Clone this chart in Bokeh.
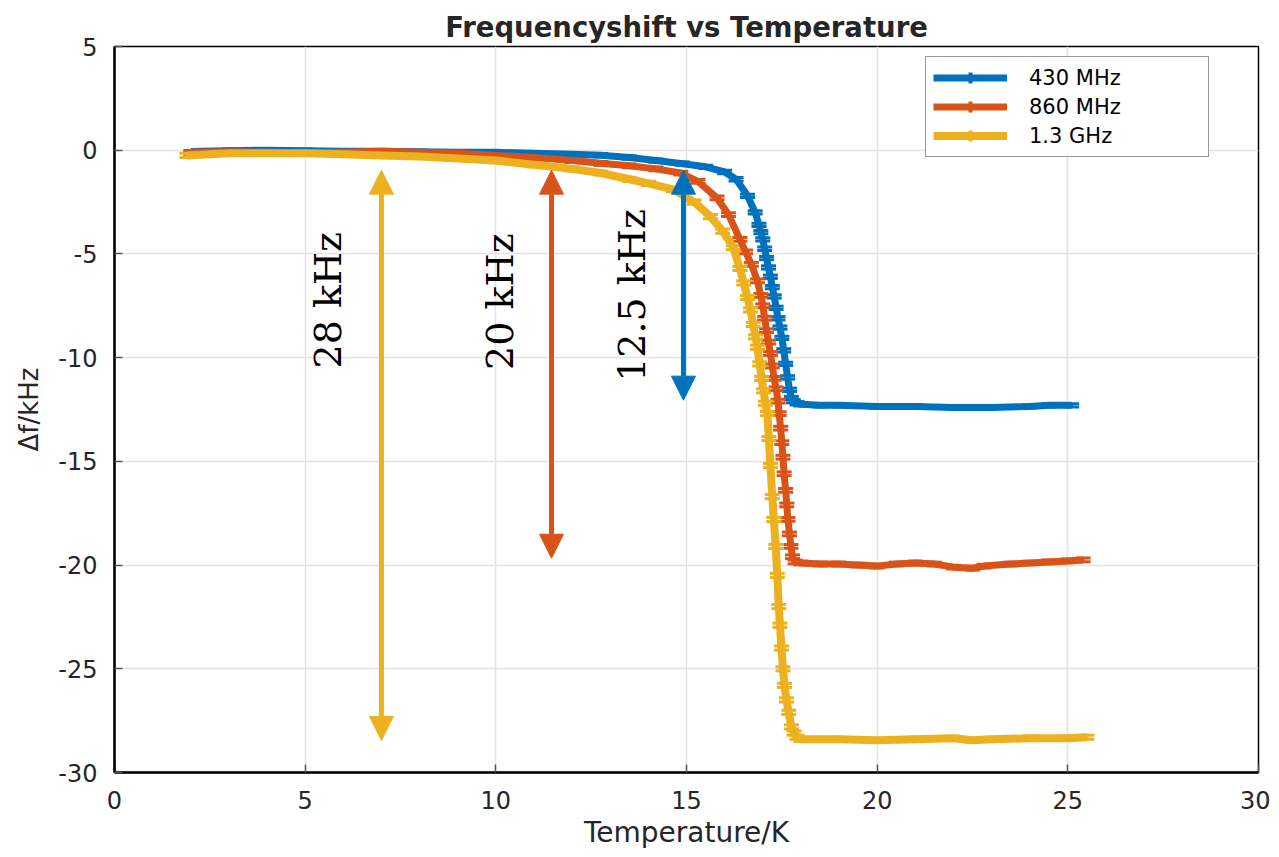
import math
from bokeh.plotting import figure
from bokeh.models import (ColumnDataSource, Range1d, SingleIntervalTicker, Whisker, TeeHead,
                          Arrow, NormalHead, Legend, LegendItem, CustomJSTickFormatter)
from bokeh.core.properties import value
from bokeh.embed import file_html
from bokeh.resources import INLINE

# ---------------- data ----------------
series_labels = ["430 MHz", "860 MHz", "1.3 GHz"]
series_colors = ["#0072BD", "#D95319", "#EDB120"]

T_430 = [2.2, 3.0, 4.0, 5.0, 6.0, 7.0, 8.0, 9.0, 10.0, 11.0, 12.0, 12.75, 13.5, 14.2, 14.9,
         15.5, 16.0, 16.3, 16.6, 16.8, 16.9, 16.95, 17.0, 17.05, 17.1, 17.15, 17.2, 17.25,
         17.3, 17.35, 17.4, 17.45, 17.5, 17.55, 17.6, 17.65, 17.7, 17.75, 17.8, 17.9, 18.0,
         18.5, 19.0, 20.0, 21.0, 22.0, 23.0, 24.0, 24.5, 25.1]
df_430 = [-0.05, -0.02, 0.0, -0.02, -0.05, -0.05, -0.08, -0.1, -0.1, -0.15, -0.2, -0.24, -0.35,
          -0.5, -0.65, -0.8, -1.05, -1.4, -2.2, -3.0, -3.6, -3.95, -4.3, -4.75, -5.2, -5.65,
          -6.1, -6.6, -7.05, -7.6, -8.1, -8.55, -9.05, -9.65, -10.3, -10.95, -11.55, -11.95,
          -12.1, -12.2, -12.25, -12.3, -12.3, -12.35, -12.35, -12.4, -12.4, -12.35, -12.3, -12.3]

T_860 = [2.0, 3.0, 4.0, 5.0, 6.0, 7.0, 8.0, 9.0, 10.0, 11.0, 12.0, 12.75, 13.5, 14.2, 14.85,
         15.3, 15.8, 16.1, 16.4, 16.55, 16.7, 16.86, 16.95, 17.0, 17.05, 17.1, 17.15, 17.2,
         17.25, 17.3, 17.35, 17.4, 17.43, 17.47, 17.5, 17.53, 17.56, 17.6, 17.63, 17.66, 17.7,
         17.74, 17.78, 17.85, 18.0, 18.5, 19.0, 19.5, 20.0, 20.5, 21.0, 21.5, 22.0, 22.5, 22.8,
         23.5, 24.0, 24.5, 25.0, 25.4]
df_860 = [-0.1, -0.08, -0.1, -0.12, -0.1, -0.05, -0.1, -0.15, -0.25, -0.35, -0.5, -0.63, -0.75,
          -0.9, -1.1, -1.5, -2.3, -3.1, -4.3, -4.9, -5.5, -6.3, -7.0, -7.5, -8.1, -8.7, -9.25,
          -9.8, -10.4, -11.0, -11.5, -12.1, -12.7, -13.4, -14.1, -14.8, -15.6, -16.4, -17.1,
          -17.8, -18.5, -19.1, -19.6, -19.85, -19.9, -19.95, -19.95, -20.0, -20.05, -19.95,
          -19.9, -19.95, -20.1, -20.15, -20.05, -19.95, -19.9, -19.85, -19.8, -19.75]

T_1300 = [1.9, 2.5, 3.0, 4.0, 5.0, 6.0, 7.0, 8.0, 9.0, 10.0, 11.0, 12.0, 12.75, 13.5, 14.0,
          14.66, 15.2, 15.63, 15.95, 16.23, 16.4, 16.5, 16.6, 16.68, 16.75, 16.81, 16.86, 16.92,
          16.97, 17.02, 17.07, 17.12, 17.16, 17.2, 17.25, 17.29, 17.34, 17.38, 17.42, 17.45,
          17.49, 17.53, 17.57, 17.62, 17.68, 17.75, 17.82, 17.9, 18.0, 18.5, 19.0, 20.0, 21.0,
          22.0, 22.5, 23.0, 24.0, 25.0, 25.5]
df_1300 = [-0.25, -0.2, -0.15, -0.15, -0.15, -0.2, -0.25, -0.3, -0.4, -0.5, -0.7, -0.9, -1.1,
           -1.4, -1.6, -1.9, -2.5, -3.2, -3.9, -4.7, -5.7, -6.4, -7.1, -7.7, -8.4, -9.0, -9.5,
           -10.3, -11.0, -11.6, -12.2, -12.7, -13.9, -15.2, -16.7, -17.8, -19.1, -20.5, -22.0,
           -22.9, -24.0, -25.0, -25.8, -26.5, -27.1, -27.8, -28.1, -28.3, -28.4, -28.4, -28.4,
           -28.45, -28.4, -28.35, -28.45, -28.4, -28.35, -28.35, -28.3]

err_430 = 0.08
err_860 = 0.09
err_1300 = 0.1

x_ticks_interval = 5
y_ticks_interval = 5

# annotation arrows (temperature, top, bottom) and their labels
arrow_T = [7.0, 11.46, 14.92]
arrow_top = [-0.96, -0.96, -0.96]
arrow_bottom = [-28.45, -19.67, -12.05]
arrow_colors = ["#EDB120", "#D95319", "#0072BD"]
label_T = [5.59, 10.12, 13.56]
label_df = [-7.23, -7.3, -7.0]
label_texts = ["28 kHz", "20 kHz", "12.5 kHz"]

# ---------------- figure ----------------
p = figure(width=1270, height=852, output_backend="svg", toolbar_location=None,
           x_range=Range1d(0, 30), y_range=Range1d(-30, 5),
           min_border_left=114, min_border_right=12, min_border_top=46, min_border_bottom=80,
           title="Frequencyshift vs Temperature")

p.title.align = "center"
p.title.text_font = "DejaVu Sans"
p.title.text_font_size = "27.5px"
p.title.text_font_style = "bold"
p.title.text_color = "#262626"
p.title.standoff = 8

p.background_fill_color = "white"
p.border_fill_color = "white"
p.outline_line_color = "black"
p.outline_line_width = 1.5

fmt = CustomJSTickFormatter(code="return tick.toString();")
for ax in (p.xaxis[0], p.yaxis[0]):
    ax.axis_line_color = "black"
    ax.axis_line_width = 2.5
    ax.major_tick_in = 8
    ax.major_tick_out = 0
    ax.major_tick_line_color = "#555555"
    ax.major_tick_line_width = 1.5
    ax.minor_tick_line_color = None
    ax.major_label_text_font = "DejaVu Sans"
    ax.major_label_text_font_size = "24px"
    ax.major_label_text_color = "#262626"
    ax.axis_label_text_font = "DejaVu Sans"
    ax.axis_label_text_font_style = "normal"
    ax.axis_label_text_color = "#262626"
    ax.formatter = fmt

p.xaxis.ticker = SingleIntervalTicker(interval=x_ticks_interval)
p.yaxis.ticker = SingleIntervalTicker(interval=y_ticks_interval)
p.xaxis.axis_label = "Temperature/K"
p.yaxis.axis_label = "Δf/kHz"
p.xaxis.axis_label_text_font_size = "28px"
p.yaxis.axis_label_text_font_size = "26px"
p.xaxis.major_label_standoff = 14
p.xaxis.axis_label_standoff = 4
p.yaxis.major_label_standoff = 13
p.yaxis.axis_label_standoff = 11

p.grid.grid_line_color = "#e3e3e3"
p.grid.grid_line_width = 1.5

# ---------------- series ----------------
series = [(T_430, df_430, err_430, 7), (T_860, df_860, err_860, 7), (T_1300, df_1300, err_1300, 8)]
legend_items = []
for (T, df, err, lw), lab, col in zip(series, series_labels, series_colors):
    src = ColumnDataSource(dict(x=T, y=df,
                                upper=[v + err for v in df],
                                lower=[v - err for v in df]))
    r_line = p.line("x", "y", source=src, line_color=col, line_width=lw, line_join="round")
    wh = Whisker(source=src, base="x", upper="upper", lower="lower", dimension="height",
                 line_color=col, line_width=3,
                 upper_head=TeeHead(size=15, line_color=col, line_width=3),
                 lower_head=TeeHead(size=15, line_color=col, line_width=3))
    p.add_layout(wh)
    # legend-only marker: the vertical stroke of the error-bar symbol
    r_bar = p.scatter(x=[float("nan")], y=[float("nan")], marker="cross",
                      size=24, line_color=col, line_width=4, fill_color=col)
    legend_items.append(LegendItem(label=lab, renderers=[r_line, r_bar]))

# ---------------- annotations ----------------
for xa, yt, yb, col in zip(arrow_T, arrow_top, arrow_bottom, arrow_colors):
    p.add_layout(Arrow(x_start=xa, y_start=yb, x_end=xa, y_end=yt,
                       line_color=col, line_width=5,
                       start=NormalHead(size=24, fill_color=col, line_color=col, line_width=1),
                       end=NormalHead(size=24, fill_color=col, line_color=col, line_width=1)))

txt_src = ColumnDataSource(dict(x=label_T, y=label_df, text=label_texts))
p.text("x", "y", text="text", source=txt_src, angle=math.pi / 2,
       text_font=value("DejaVu Serif"), text_font_size="38px", text_color="black",
       text_align="center", text_baseline="middle")

# ---------------- legend ----------------
legend = Legend(items=legend_items, location=(811, 615),
                glyph_width=74, glyph_height=27, label_standoff=22, label_width=172,
                padding=7, spacing=2, margin=0,
                label_text_font="DejaVu Sans", label_text_font_size="21px",
                label_text_color="black",
                border_line_color="#333333", border_line_width=1.5,
                background_fill_color="white", background_fill_alpha=1.0)
p.add_layout(legend, "center")

open("out.html", "w").write(file_html(p, INLINE))
